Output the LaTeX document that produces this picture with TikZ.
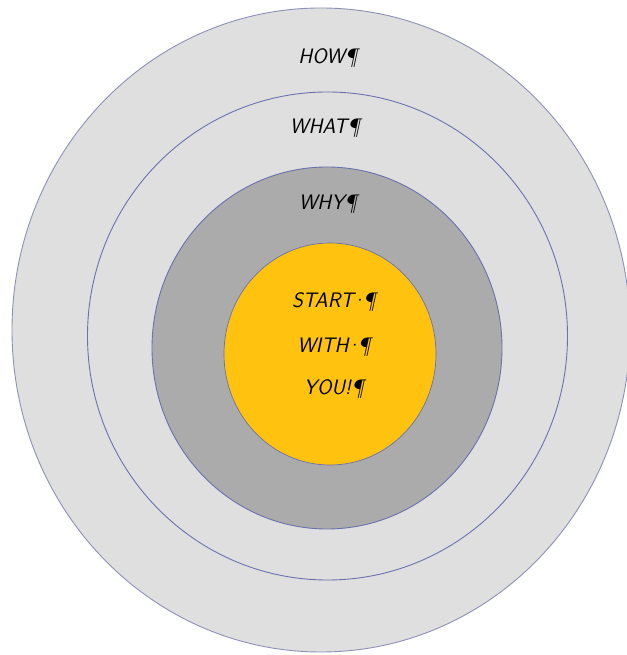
\documentclass[tikz,border=0pt]{standalone}
\usepackage{fontspec}
\definecolor{ringline}{HTML}{6A72AE}
\definecolor{outerline}{HTML}{8C91B8}
\definecolor{lightring}{HTML}{DFDFDF}
\definecolor{darkring}{HTML}{ABABAB}
\definecolor{coreyellow}{HTML}{FFC20E}
\def\unit{1bp}
\def\dotmark{\kern-3pt·\kern-3pt}

\begin{document}
\begin{tikzpicture}[x=\unit, y=\unit, every node/.style={anchor=center, font=\sffamily\itshape\fontsize{21}{24}\selectfont}]
      \useasboundingbox (0,0) rectangle (627,655);
      \clip (0,0) rectangle (627,655);
      \fill[white] (0,0) rectangle (627,655);
      \draw[outerline, fill=lightring, line width=0.9pt] (321,325) ellipse [x radius=309, y radius=322];
      \draw[ringline, fill=lightring, line width=0.9pt] (327.5,319) ellipse [x radius=240, y radius=244];
      \draw[ringline, fill=darkring, line width=0.9pt] (327,307) ellipse [x radius=175, y radius=181];
      \draw[ringline, fill=coreyellow, line width=0.7pt] (330,301) ellipse [x radius=106, y radius=111];
      \node (how) at (328,597) {HOW¶};
      \node (what) at (325,527) {WHAT¶};
      \node (why) at (328,451) {WHY¶};
      \node (start) at (334,353) {START\dotmark¶};
      \node (with) at (334,308) {WITH\dotmark¶};
      \node (you) at (334,266) {YOU!¶};
    \end{tikzpicture}
\end{document}
